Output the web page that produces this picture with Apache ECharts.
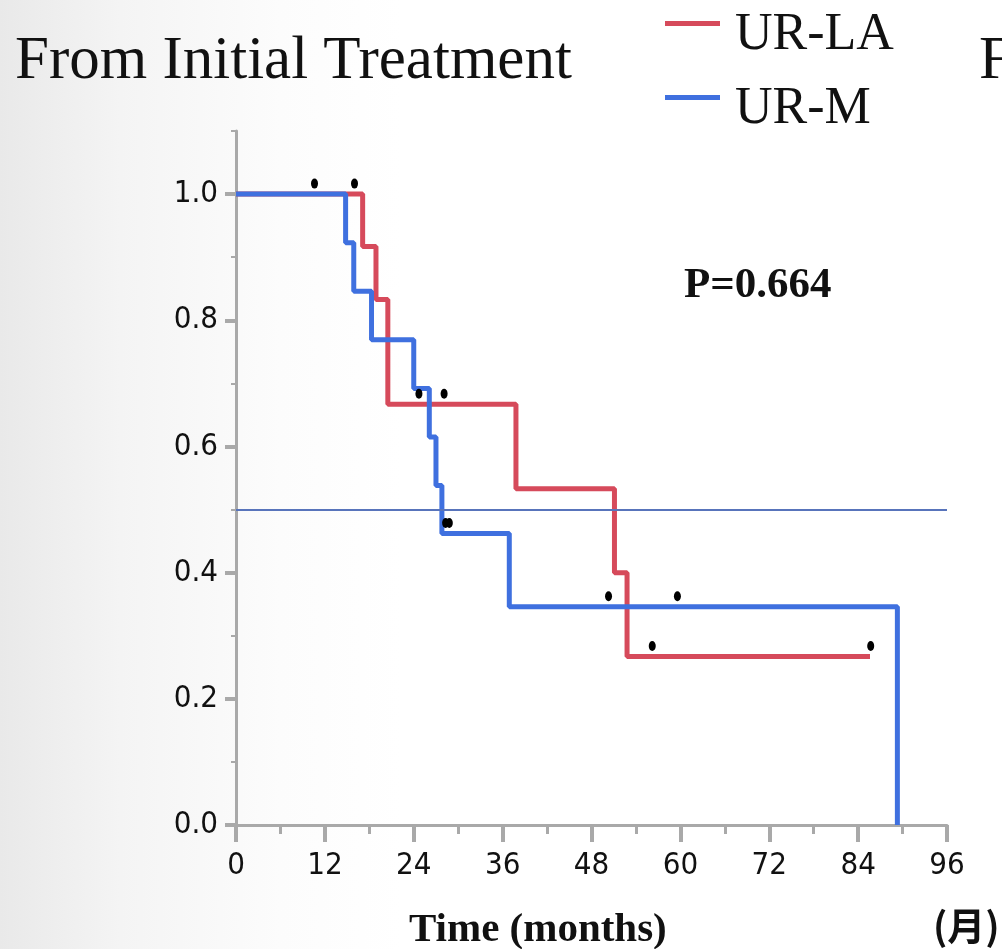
<!DOCTYPE html>
<html>
<head>
<meta charset="utf-8">
<script src="https://cdn.jsdelivr.net/npm/echarts@6/dist/echarts.min.js"></script>
<style>
html,body{margin:0;padding:0;}
body{background:linear-gradient(to right,#e9e9e9 0%,#f4f4f4 12%,#fcfcfc 28%,#ffffff 40%);}
#chart{width:1002px;height:949px;}
</style>
</head>
<body>
<div id="chart"></div>
<script>
// Kaplan-Meier step data: [months, survival]
const seriesNames = ['UR-LA', 'UR-M'];
const urLA = [[0,1.0],[17.1,0.917],[18.9,0.833],[20.5,0.667],[37.8,0.533],[51.1,0.400],[52.8,0.267],[85.6,0.267]];
const urM  = [[0,1.0],[14.8,0.923],[15.9,0.846],[18.3,0.769],[24.0,0.692],[26.1,0.615],[27.0,0.538],[27.8,0.462],[36.9,0.346],[89.3,0.0]];
// censored observations
const urLACensor = [[10.6,1.0],[16.0,1.0],[24.7,0.667],[28.1,0.667],[56.2,0.267],[85.7,0.267]];
const urMCensor  = [[28.3,0.462],[28.8,0.462],[50.3,0.346],[59.6,0.346]];
const xTicks = [0,12,24,36,48,60,72,84,96];
const yTicks = [0,0.2,0.4,0.6,0.8,1.0];
const medianLine = 0.5;
const pText = 'P=0.664';

const chart = echarts.init(document.getElementById('chart'), null, {renderer:'canvas'});
const axisGray = '#a9a9a9';
const labelFont = '"Liberation Sans Narrow","DejaVu Sans Condensed","Arial Narrow",sans-serif';
const serif = '"Liberation Serif","Times New Roman",serif';
const red = '#d64a5b', blue = '#3f70df';

chart.setOption({
  animation:false,
  backgroundColor:'transparent',
  grid:{left:236, right:55, top:131, bottom:124, containLabel:false},
  legend:{
    orient:'vertical', left:660, top:-19,
    itemWidth:55, itemHeight:5, itemGap:-1, icon:'rect',
    data:seriesNames,
    formatter:name=>'{t|'+name+'}',
    textStyle:{fontFamily:serif, fontSize:52, color:'#111',
      rich:{t:{fontFamily:serif, fontSize:52, color:'#111', lineHeight:50, padding:[23,0,0,10]}}}
  },
  xAxis:[{
    type:'value', min:0, max:96, interval:12,
    axisLine:{show:true, lineStyle:{color:axisGray, width:3}},
    axisTick:{show:true, length:17, lineStyle:{color:axisGray, width:4}},
    minorTick:{show:true, splitNumber:2, length:9, lineStyle:{color:axisGray, width:3}},
    axisLabel:{margin:25, fontFamily:labelFont, fontSize:31, color:'#111', customValues:xTicks},
    splitLine:{show:false}
  }],
  yAxis:[{
    type:'value', min:0, max:1.1, interval:0.2,
    axisLine:{show:true, lineStyle:{color:axisGray, width:3}},
    axisTick:{show:true, length:11, lineStyle:{color:axisGray, width:4}, customValues:yTicks},
    axisLabel:{margin:18, fontFamily:labelFont, fontSize:31, color:'#111', customValues:yTicks,
      formatter:v=>v.toFixed(1)},
    splitLine:{show:false}
  },{
    type:'value', min:0, max:1.1, interval:0.1, position:'left',
    axisLine:{show:false},
    axisTick:{show:true, length:5, lineStyle:{color:axisGray, width:2}},
    axisLabel:{show:false},
    splitLine:{show:false}
  }],
  series:[
    {name:'UR-LA', type:'line', step:'end', data:urLA, showSymbol:false, symbol:'none',
     lineStyle:{color:red, width:5}, itemStyle:{color:red}, z:3,
     markLine:{silent:true, symbol:'none', label:{show:false},
       lineStyle:{color:'#5874bb', width:2, type:'solid'},
       data:[{yAxis:medianLine}]}},
    {name:'UR-M', type:'line', step:'end', data:urM, showSymbol:false, symbol:'none',
     lineStyle:{color:blue, width:5}, itemStyle:{color:blue}, z:4},
    {type:'scatter', data:urLACensor, symbol:'circle', symbolSize:[7,10], symbolOffset:[0,-10.5],
     itemStyle:{color:'#000', opacity:1}, z:5},
    {type:'scatter', data:urMCensor, symbol:'circle', symbolSize:[7,10], symbolOffset:[0,-10.5],
     itemStyle:{color:'#000', opacity:1}, z:5}
  ],
  graphic:[
    {type:'text', left:15, top:31, style:{text:'From Initial Treatment', font:'61px '+serif, fill:'#111'}},
    {type:'text', left:979, top:31, style:{text:'F', font:'61px '+serif, fill:'#111'}},
    {type:'text', left:684, top:264, style:{text:pText, font:'bold 43px '+serif, fill:'#111'}},
    {type:'text', left:409, top:910, style:{text:'Time (months)', font:'bold 41px '+serif, fill:'#111'}},
    {type:'text', left:933, top:907, style:{text:'(月)', font:'bold 38px "Noto Sans CJK JP",sans-serif', fill:'#111'}}
  ]
});
</script>
</body>
</html>
